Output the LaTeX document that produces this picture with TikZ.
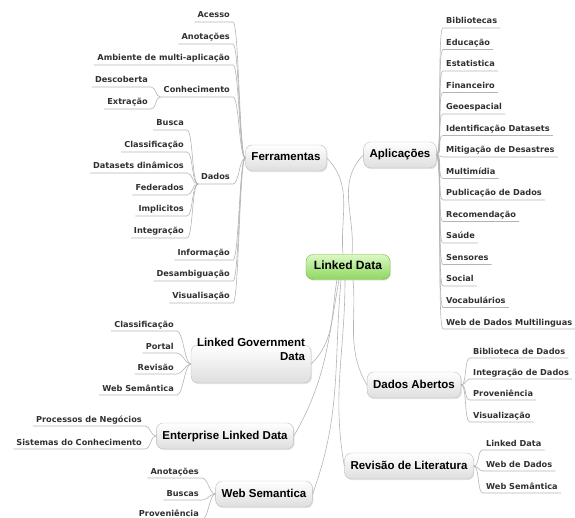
\documentclass[tikz,border=0pt]{standalone}
\usepackage{fontspec}
\setmainfont{Liberation Sans}
\newfontfamily\leaffont{DejaVu Sans}
\usetikzlibrary{shadows}
\definecolor{linegray}{RGB}{180,180,180}
\definecolor{leaftext}{RGB}{48,48,52}
\definecolor{boxline}{RGB}{190,190,190}
\definecolor{boxbottom}{RGB}{222,222,222}
\definecolor{greentop}{RGB}{220,248,195}
\definecolor{greenbottom}{RGB}{140,215,95}
\definecolor{greenline}{RGB}{115,185,70}

\begin{document}
\begin{tikzpicture}[x=1pt,y=1pt,
    topic/.style={rounded corners=7pt, draw=boxline, top color=white,
      bottom color=boxbottom, font=\bfseries\fontsize{11.5}{14}\selectfont,
      inner xsep=6pt, inner ysep=7.5pt, text height=8.5pt, text depth=2.5pt,
      drop shadow={shadow xshift=1pt, shadow yshift=-1.2pt, opacity=0.2}},
    central/.style={topic, draw=greenline, top color=greentop,
      bottom color=greenbottom, font=\bfseries\fontsize{12}{14}\selectfont,
      inner xsep=8pt, inner ysep=7pt},
    leaf/.style={font=\leaffont\bfseries\fontsize{8.2}{10}\selectfont,
      text=leaftext, inner xsep=3pt, inner ysep=2pt,
      text height=6.5pt, text depth=1.8pt},
    lleaf/.style={leaf, anchor=south east},
    rleaf/.style={leaf, anchor=south west},
    link/.style={draw=linegray, line width=0.6pt},
    branch/.style={link, max distance=6pt}]
  \useasboundingbox (0,0) rectangle (575,-518);

  % main topics
  \node[central] (ld) at (348,-267) {Linked Data};
  \node[topic] (fer) at (286,-158) {Ferramentas};
  \node[topic] (apl) at (400,-155) {Aplicações};
  \node[topic, align=right, text depth=16.5pt, inner ysep=6.5pt] (lgd)
    at (251,-364) {Linked Government\\Data};
  \node[topic] (ent) at (225,-436) {Enterprise Linked Data};
  \node[topic] (ws) at (264,-494) {Web Semantica};
  \node[topic] (dab) at (414,-385) {Dados Abertos};
  \node[topic] (rev) at (409,-466) {Revisão de Literatura};

  \draw[link] ([xshift=-5pt]ld.north) to[out=95,in=-45] (fer.east);
  \draw[link] ([xshift=4pt]ld.north) to[out=85,in=-135] (apl.west);
  \draw[link] ([xshift=-11pt]ld.south) to[out=-100,in=45] (lgd.east);
  \draw[link] ([xshift=-9pt]ld.south) to[out=-100,in=60] (ent.east);
  \draw[link] ([xshift=-7pt]ld.south) to[out=-95,in=70] (ws.east);
  \draw[link] ([xshift=-3pt]ld.south) to[out=-90,in=100] (rev.west);
  \draw[link] ([xshift=5pt]ld.south) to[out=-85,in=120] (dab.west);

  % Ferramentas
  \node[lleaf] (ace) at (233,-22) {Acesso};
  \node[lleaf] (ano) at (233,-44) {Anotações};
  \node[lleaf] (amb) at (233,-65) {Ambiente de multi-aplicação};
  \node[lleaf] (con) at (233,-97) {Conhecimento};
  \node[lleaf] (des) at (151,-87) {Descoberta};
  \node[lleaf] (ext) at (151,-109) {Extração};
  \node[lleaf] (dad) at (233,-184) {Dados};
  \node[lleaf] (bus) at (187,-130) {Busca};
  \node[lleaf] (cla) at (187,-152) {Classificação};
  \node[lleaf] (dat) at (187,-173) {Datasets dinâmicos};
  \node[lleaf] (fed) at (187,-195) {Federados};
  \node[lleaf] (imp) at (187,-216) {Implicitos};
  \node[lleaf] (itg) at (187,-238) {Integração};
  \node[lleaf] (inf) at (233,-260) {Informação};
  \node[lleaf] (dam) at (233,-281) {Desambiguação};
  \node[lleaf] (vis) at (233,-303) {Visualisação};

  \draw[branch] (ace.south west) -- (ace.south east) to[out=0,in=180] (fer.west);
  \draw[branch] (ano.south west) -- (ano.south east) to[out=0,in=180] (fer.west);
  \draw[branch] (amb.south west) -- (amb.south east) to[out=0,in=180] (fer.west);
  \draw[branch] (con.south west) -- (con.south east) to[out=0,in=180] (fer.west);
  \draw[branch] (des.south west) -- (des.south east) to[out=0,in=180] (con.south west);
  \draw[branch] (ext.south west) -- (ext.south east) to[out=0,in=180] (con.south west);
  \draw[branch] (dad.south west) -- (dad.south east) to[out=0,in=180] (fer.west);
  \draw[branch] (bus.south west) -- (bus.south east) to[out=0,in=180] (dad.south west);
  \draw[branch] (cla.south west) -- (cla.south east) to[out=0,in=180] (dad.south west);
  \draw[branch] (dat.south west) -- (dat.south east) to[out=0,in=180] (dad.south west);
  \draw[branch] (fed.south west) -- (fed.south east) to[out=0,in=180] (dad.south west);
  \draw[branch] (imp.south west) -- (imp.south east) to[out=0,in=180] (dad.south west);
  \draw[branch] (itg.south west) -- (itg.south east) to[out=0,in=180] (dad.south west);
  \draw[branch] (inf.south west) -- (inf.south east) to[out=0,in=180] (fer.west);
  \draw[branch] (dam.south west) -- (dam.south east) to[out=0,in=180] (fer.west);
  \draw[branch] (vis.south west) -- (vis.south east) to[out=0,in=180] (fer.west);

  % Aplicacoes
  \node[rleaf] (a1) at (443,-28) {Bibliotecas};
  \node[rleaf] (a2) at (443,-49.5) {Educação};
  \node[rleaf] (a3) at (443,-71) {Estatistica};
  \node[rleaf] (a4) at (443,-92.5) {Financeiro};
  \node[rleaf] (a5) at (443,-114) {Geoespacial};
  \node[rleaf] (a6) at (443,-135.5) {Identificação Datasets};
  \node[rleaf] (a7) at (443,-157) {Mitigação de Desastres};
  \node[rleaf] (a8) at (443,-178.5) {Multimídia};
  \node[rleaf] (a9) at (443,-200) {Publicação de Dados};
  \node[rleaf] (a10) at (443,-221.5) {Recomendação};
  \node[rleaf] (a11) at (443,-243) {Saúde};
  \node[rleaf] (a12) at (443,-264.5) {Sensores};
  \node[rleaf] (a13) at (443,-286) {Social};
  \node[rleaf] (a14) at (443,-307.5) {Vocabulários};
  \node[rleaf] (a15) at (443,-329) {Web de Dados Multilinguas};

  \draw[branch] (apl.east) to[out=0,in=180] (a1.south west) -- (a1.south east);
  \draw[branch] (apl.east) to[out=0,in=180] (a2.south west) -- (a2.south east);
  \draw[branch] (apl.east) to[out=0,in=180] (a3.south west) -- (a3.south east);
  \draw[branch] (apl.east) to[out=0,in=180] (a4.south west) -- (a4.south east);
  \draw[branch] (apl.east) to[out=0,in=180] (a5.south west) -- (a5.south east);
  \draw[branch] (apl.east) to[out=0,in=180] (a6.south west) -- (a6.south east);
  \draw[branch] (apl.east) to[out=0,in=180] (a7.south west) -- (a7.south east);
  \draw[branch] (apl.east) to[out=0,in=180] (a8.south west) -- (a8.south east);
  \draw[branch] (apl.east) to[out=0,in=180] (a9.south west) -- (a9.south east);
  \draw[branch] (apl.east) to[out=0,in=180] (a10.south west) -- (a10.south east);
  \draw[branch] (apl.east) to[out=0,in=180] (a11.south west) -- (a11.south east);
  \draw[branch] (apl.east) to[out=0,in=180] (a12.south west) -- (a12.south east);
  \draw[branch] (apl.east) to[out=0,in=180] (a13.south west) -- (a13.south east);
  \draw[branch] (apl.east) to[out=0,in=180] (a14.south west) -- (a14.south east);
  \draw[branch] (apl.east) to[out=0,in=180] (a15.south west) -- (a15.south east);

  % Dados Abertos
  \node[rleaf] (d1) at (470,-358) {Biblioteca de Dados};
  \node[rleaf] (d2) at (470,-379) {Integração de Dados};
  \node[rleaf] (d3) at (470,-400) {Proveniência};
  \node[rleaf] (d4) at (470,-422) {Visualização};

  \draw[branch] (dab.east) to[out=0,in=180] (d1.south west) -- (d1.south east);
  \draw[branch] (dab.east) to[out=0,in=180] (d2.south west) -- (d2.south east);
  \draw[branch] (dab.east) to[out=0,in=180] (d3.south west) -- (d3.south east);
  \draw[branch] (dab.east) to[out=0,in=180] (d4.south west) -- (d4.south east);

  % Revisao de Literatura
  \node[rleaf] (r1) at (483,-450) {Linked Data};
  \node[rleaf] (r2) at (483,-471) {Web de Dados};
  \node[rleaf] (r3) at (483,-493) {Web Semântica};

  \draw[branch] (rev.east) to[out=0,in=180] (r1.south west) -- (r1.south east);
  \draw[branch] (rev.east) to[out=0,in=180] (r2.south west) -- (r2.south east);
  \draw[branch] (rev.east) to[out=0,in=180] (r3.south west) -- (r3.south east);

  % Linked Government Data
  \node[lleaf] (g1) at (177,-331) {Classificação};
  \node[lleaf] (g2) at (177,-353) {Portal};
  \node[lleaf] (g3) at (177,-374) {Revisão};
  \node[lleaf] (g4) at (177,-395) {Web Semântica};

  \draw[branch] (g1.south west) -- (g1.south east) to[out=0,in=180] (lgd.west);
  \draw[branch] (g2.south west) -- (g2.south east) to[out=0,in=180] (lgd.west);
  \draw[branch] (g3.south west) -- (g3.south east) to[out=0,in=180] (lgd.west);
  \draw[branch] (g4.south west) -- (g4.south east) to[out=0,in=180] (lgd.west);

  % Enterprise Linked Data
  \node[lleaf] (e1) at (145,-426) {Processos de Negócios};
  \node[lleaf] (e2) at (145,-449) {Sistemas do Conhecimento};

  \draw[branch] (e1.south west) -- (e1.south east) to[out=0,in=180] (ent.west);
  \draw[branch] (e2.south west) -- (e2.south east) to[out=0,in=180] (ent.west);

  % Web Semantica
  \node[lleaf] (w1) at (202,-478) {Anotações};
  \node[lleaf] (w2) at (202,-500) {Buscas};
  \node[lleaf] (w3) at (202,-520) {Proveniência};

  \draw[branch] (w1.south west) -- (w1.south east) to[out=0,in=180] (ws.west);
  \draw[branch] (w2.south west) -- (w2.south east) to[out=0,in=180] (ws.west);
  \draw[branch] (w3.south west) -- (w3.south east) to[out=0,in=180] (ws.west);
\end{tikzpicture}
\end{document}
